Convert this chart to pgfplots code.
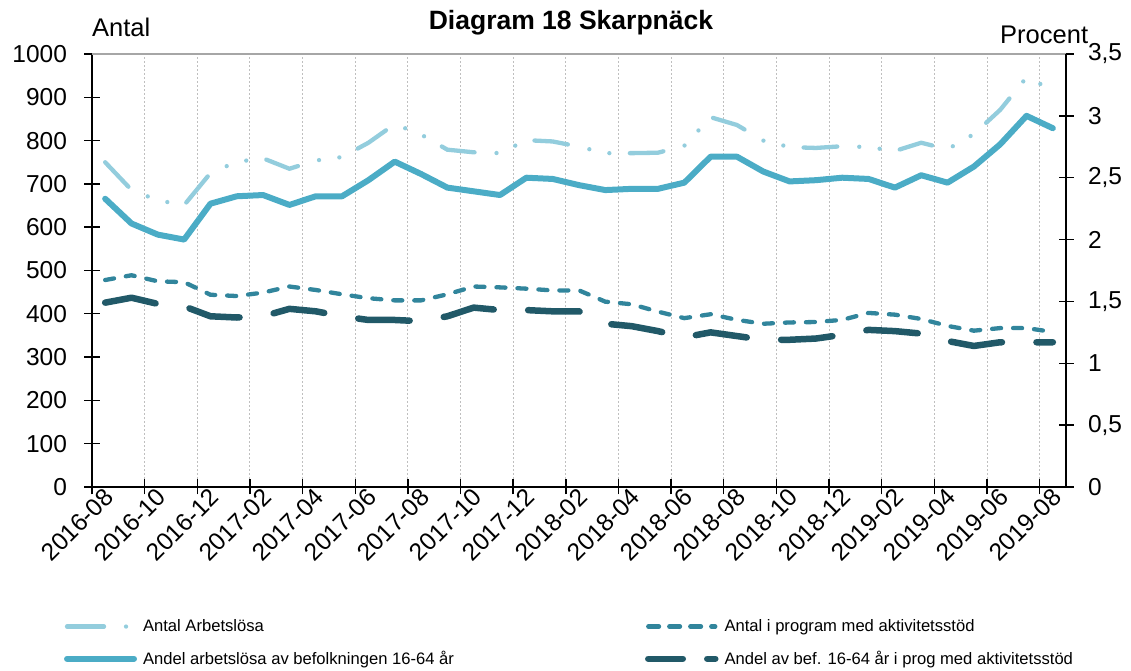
\documentclass[border=0pt]{standalone}
\usepackage{pgfplots}
\usepackage{pgfplotstable}
\pgfplotsset{compat=1.18}
\usepackage{fontspec}
\setmainfont{Liberation Sans}
\definecolor{cLight}{HTML}{93CDDD}
\definecolor{cSolid}{HTML}{4BACC6}
\definecolor{cMed}{HTML}{31859C}
\definecolor{cDark}{HTML}{215968}
\newcommand\tickfont{\fontsize{24.5}{29}\selectfont}
\newcommand\legfont{\fontsize{16.6}{20}\selectfont}

\pgfplotstableread{
i ant prog
0 750 478
1 686 489
2 662 475
3 651 473
4 725 444
5 751 441
6 759 449
7 735 463
8 754 455
9 762 445
10 795 436
11 838 431
12 814 431
13 779 445
14 773 463
15 771 461
16 801 458
17 798 454
18 786 454
19 771 428
20 771 422
21 772 405
22 788 390
23 854 399
24 836 386
25 800 377
26 785 380
27 783 381
28 787 386
29 785 402
30 776 398
31 795 388
32 780 372
33 815 361
34 871 367
35 946 367
36 917 358
}\antal

\pgfplotstableread{
i andel andelprog
0 2.33 1.49
1 2.13 1.53
2 2.04 1.48
3 2.00 1.46
4 2.29 1.38
5 2.35 1.37
6 2.36 1.38
7 2.28 1.44
8 2.35 1.42
9 2.35 1.38
10 2.48 1.35
11 2.63 1.35
12 2.53 1.34
13 2.42 1.38
14 2.39 1.45
15 2.36 1.43
16 2.50 1.43
17 2.49 1.42
18 2.44 1.42
19 2.40 1.32
20 2.41 1.30
21 2.41 1.26
22 2.46 1.21
23 2.67 1.25
24 2.67 1.22
25 2.55 1.19
26 2.47 1.19
27 2.48 1.20
28 2.50 1.23
29 2.49 1.27
30 2.42 1.26
31 2.52 1.24
32 2.46 1.18
33 2.59 1.14
34 2.77 1.17
35 3.00 1.17
36 2.90 1.17
}\andel

\begin{document}
\begin{tikzpicture}
\path[use as bounding box] (0pt,0pt) rectangle (1131pt,671pt);
\pgfplotsset{
  common/.style={
    at={(92pt,184pt)}, anchor=south west,
    scale only axis, width=974pt, height=433pt,
    xmin=-0.5, xmax=36.5,
    tick align=center, major tick length=15pt,
    tick style={line width=1.4pt, black},
  }
}
\begin{axis}[common,
  ymin=0, ymax=1000,
  axis x line*=bottom, axis y line*=left,
  axis line style={-, line width=1.6pt, black},
  ytick={0,100,...,1000},
  yticklabels={0,100,200,300,400,500,600,700,800,900,1000},
  yticklabel style={font=\tickfont, xshift=-14pt},
  xtick={-0.5,1.5,...,35.5},
  xticklabels={},
  xmajorgrids,
  grid style={gray!50, line width=1pt, dash pattern=on 2pt off 2pt},
  extra x ticks={0,2,...,36},
  extra x tick labels={2016-08,2016-10,2016-12,2017-02,2017-04,2017-06,2017-08,2017-10,2017-12,2018-02,2018-04,2018-06,2018-08,2018-10,2018-12,2019-02,2019-04,2019-06,2019-08},
  extra x tick style={major tick length=0pt, grid=none, tick style={draw=none}},
  xticklabel style={font=\tickfont, rotate=45, anchor=east, yshift=-7pt, xshift=2pt},
]
\addplot[cLight, line width=4.3pt, line cap=round, dash pattern=on 33.7pt off 22pt on 0pt off 20.5pt on 0pt off 20.5pt] table[x=i,y=ant]{\antal};
\addplot[cMed, line width=4.3pt, line cap=round, dash pattern=on 9pt off 12pt] table[x=i,y=prog]{\antal};
\end{axis}
\begin{axis}[common,
  ymin=0, ymax=3.5,
  axis x line*=top, axis y line*=right,
  axis line style={-, line width=1.6pt, black},
  x axis line style={gray!70, line width=2pt},
  xtick=\empty,
  ytick={0,0.5,...,3.5},
  yticklabels={0,{0,5},1,{1,5},2,{2,5},3,{3,5}},
  yticklabel style={font=\tickfont, xshift=11pt},
  legend columns=2,
  legend cell align=left,
  legend image code/.code={\draw[#1] (0pt,0pt) -- (67pt,0pt);},
  legend style={draw=none, fill=none, font=\legfont,
    at={(axis description cs:-0.032,-0.297)}, anchor=north west,
    row sep=14pt,
    /tikz/every odd column/.append style={column sep=4pt}},
]
\addlegendimage{cLight, line width=4.3pt, line cap=round, dash pattern=on 37pt off 22pt on 0pt off 30pt}
\addlegendentry{\makebox[500pt][l]{Antal Arbetslösa}}
\addlegendimage{cMed, line width=4.3pt, line cap=round, dash pattern=on 10.7pt off 10.3pt}
\addlegendentry{Antal i program med aktivitetsstöd}
\addlegendimage{cSolid, line width=6pt, line cap=round}
\addlegendentry{\makebox[500pt][l]{Andel arbetslösa av befolkningen 16-64 år}}
\addlegendimage{cDark, line width=6.5pt, line cap=round, dash pattern=on 34.5pt off 24.5pt}
\addlegendentry{Andel av bef. 16-64 år i prog med aktivitetsstöd}
\addplot[forget plot, cSolid, line width=6pt, line cap=round, line join=round] table[x=i,y=andel]{\andel};
\addplot[forget plot, cDark, line width=6.5pt, line cap=round, line join=round, dash pattern=on 51.5pt off 34.5pt] table[x=i,y=andelprog]{\andel};
\end{axis}
\node[anchor=base, font=\bfseries\fontsize{26.5}{30}\selectfont] at (571pt,641pt) {Diagram 18 Skarpnäck};
\node[anchor=base west, inner sep=0pt, font=\fontsize{25.5}{30}\selectfont] at (92pt,634pt) {Antal};
\node[anchor=base west, inner sep=0pt, font=\fontsize{25.5}{30}\selectfont] at (1000pt,627pt) {Procent};
\end{tikzpicture}
\end{document}
